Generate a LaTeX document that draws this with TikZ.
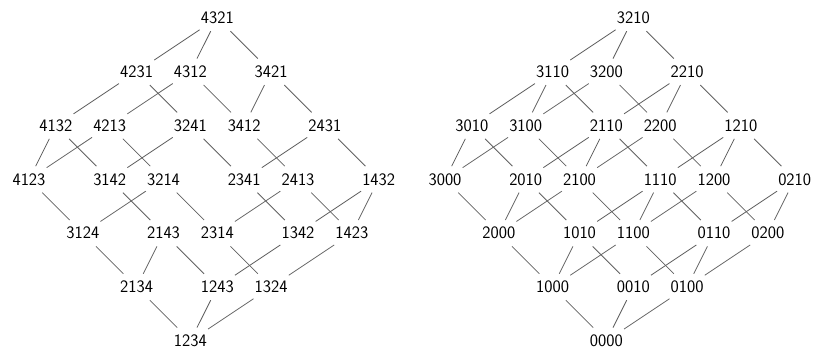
\documentclass[tikz,border=0pt]{standalone}
\usepackage{fontspec}
\begin{document}
\begin{tikzpicture}[x=1pt,y=1pt,
  lbl/.style={font=\fontsize{17.5}{20}\sffamily, inner xsep=1pt, inner ysep=7pt},
  link/.style={draw=black!62, line width=0.8pt}]
\useasboundingbox (0,0) rectangle (817,-350);

% Left lattice: permutations of 1234
\begin{scope}[shift={(29,-18)}, x=26.9pt, y=-53.8pt]
  \foreach \n/\k/\r in {4321/7/0,
      4231/4/1, 4312/6/1, 3421/9/1,
      4132/1/2, 4213/3/2, 3241/6/2, 3412/8/2, 2431/11/2,
      4123/0/3, 3142/3/3, 3214/5/3, 2341/8/3, 2413/10/3, 1432/13/3,
      3124/2/4, 2143/5/4, 2314/7/4, 1342/10/4, 1423/12/4,
      2134/4/5, 1243/7/5, 1324/9/5,
      1234/6/6}
    \node[lbl] (p\n) at (\k,\r) {\n};
  \foreach \a/\b in {4321/4231, 4321/4312, 4321/3421,
      4231/4132, 4231/3241, 4312/4213, 4312/3412, 3421/3412, 3421/2431,
      4132/4123, 4132/3142, 4213/4123, 4213/3214, 3241/3142, 3241/2341,
      3412/2413, 2431/2341, 2431/1432,
      4123/3124, 3142/2143, 3214/3124, 3214/2314, 2341/1342, 2413/2314,
      2413/1423, 1432/1342, 1432/1423,
      3124/2134, 2143/2134, 2143/1243, 2314/1324, 1342/1243, 1423/1324,
      2134/1234, 1243/1234, 1324/1234}
    \draw[link] (p\a) -- (p\b);
\end{scope}

% Right lattice: codes
\begin{scope}[shift={(445,-18)}, x=26.9pt, y=-53.8pt]
  \foreach \n/\k/\r in {3210/7/0,
      3110/4/1, 3200/6/1, 2210/9/1,
      3010/1/2, 3100/3/2, 2110/6/2, 2200/8/2, 1210/11/2,
      3000/0/3, 2010/3/3, 2100/5/3, 1110/8/3, 1200/10/3, 0210/13/3,
      2000/2/4, 1010/5/4, 1100/7/4, 0110/10/4, 0200/12/4,
      1000/4/5, 0010/7/5, 0100/9/5,
      0000/6/6}
    \node[lbl] (q\n) at (\k,\r) {\n};
  \foreach \a/\b in {3210/3110, 3210/3200, 3210/2210,
      3110/3010, 3110/3100, 3110/2110, 3200/3100, 3200/2200,
      2210/2110, 2210/2200, 2210/1210,
      3010/3000, 3010/2010, 3100/3000, 3100/2100, 2110/2010, 2110/2100,
      2110/1110, 2200/2100, 2200/1200, 1210/1110, 1210/1200, 1210/0210,
      3000/2000, 2010/2000, 2010/1010, 2100/2000, 2100/1100, 1110/1010,
      1110/1100, 1110/0110, 1200/1100, 1200/0200, 0210/0110, 0210/0200,
      2000/1000, 1010/1000, 1010/0010, 1100/1000, 1100/0100, 0110/0010,
      0110/0100, 0200/0100,
      1000/0000, 0010/0000, 0100/0000}
    \draw[link] (q\a) -- (q\b);
\end{scope}
\end{tikzpicture}
\end{document}
